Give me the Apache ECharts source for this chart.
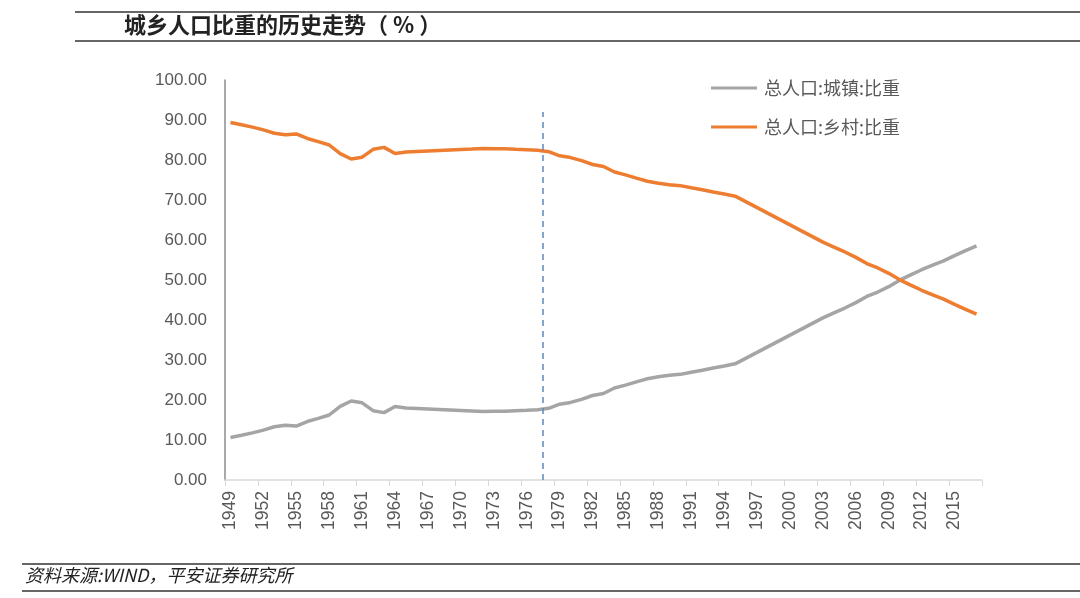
<!DOCTYPE html>
<html><head><meta charset="utf-8">
<script src="https://cdn.jsdelivr.net/npm/echarts@6/dist/echarts.min.js"></script>
<style>html,body{margin:0;padding:0;background:#fff}#c{width:1080px;height:598px}</style>
</head><body><div id="c"></div>
<script>
const years = [];
for (let y = 1949; y <= 2017; y++) years.push(String(y));
const urbanShare = [10.64,11.18,11.78,12.46,13.31,13.69,13.48,14.62,15.39,16.25,18.41,19.75,19.29,17.33,16.84,18.37,17.98,17.86,17.74,17.62,17.50,17.38,17.26,17.13,17.20,17.16,17.34,17.44,17.55,17.92,18.96,19.39,20.16,21.13,21.62,23.01,23.71,24.52,25.32,25.81,26.21,26.41,26.94,27.46,27.99,28.51,29.04,30.48,31.91,33.35,34.78,36.22,37.66,39.09,40.53,41.76,42.99,44.34,45.89,46.99,48.34,49.95,51.27,52.57,53.73,54.77,56.10,57.35,58.52];
const ruralShare = [89.36,88.82,88.22,87.54,86.69,86.31,86.52,85.38,84.61,83.75,81.59,80.25,80.71,82.67,83.16,81.63,82.02,82.14,82.26,82.38,82.50,82.62,82.74,82.87,82.80,82.84,82.66,82.56,82.45,82.08,81.04,80.61,79.84,78.87,78.38,76.99,76.29,75.48,74.68,74.19,73.79,73.59,73.06,72.54,72.01,71.49,70.96,69.52,68.09,66.65,65.22,63.78,62.34,60.91,59.47,58.24,57.01,55.66,54.11,53.01,51.66,50.05,48.73,47.43,46.27,45.23,43.90,42.65,41.48];
const seriesNames = ['总人口:城镇:比重', '总人口:乡村:比重'];
const reformIndex = 29;   // 1978 boundary
const reformTop = 92;
const titleText = '城乡人口比重的历史走势（ % ）';
const sourceText = '资料来源:WIND，平安证券研究所';

const chart = echarts.init(document.getElementById('c'));
chart.setOption({
  animation: false,
  backgroundColor: '#fff',
  grid: { left: 225, right: 98, top: 80, bottom: 118, containLabel: false },
  legend: {
    orient: 'vertical', left: 706, top: 74, itemGap: 21,
    itemWidth: 46, itemHeight: 3,
    icon: 'rect',
    textStyle: { fontFamily: 'Noto Sans CJK SC', fontSize: 18, color: '#595959', padding: [0,0,0,2] },
    data: seriesNames
  },
  xAxis: [{
    type: 'category', data: years, boundaryGap: true,
    axisLine: { lineStyle: { color: '#d9d9d9', width: 1.5 } },
    axisTick: { show: true, interval: 2, length: 6, lineStyle: { color: '#d9d9d9' } },
    axisLabel: { interval: 2, rotate: 90, fontFamily: 'Liberation Sans', fontSize: 17.5, color: '#595959', margin: 11 },
    splitLine: { show: false }
  }, {
    type: 'value', min: 0, max: years.length, show: false
  }],
  yAxis: {
    type: 'value', min: 0, max: 100, interval: 10,
    axisLine: { show: true, lineStyle: { color: '#8c8c8c', width: 1.5 } },
    axisTick: { show: false },
    splitLine: { show: false },
    axisLabel: { formatter: v => v.toFixed(2), fontFamily: 'Liberation Sans', fontSize: 17, color: '#595959', margin: 18 }
  },
  series: [
    { name: seriesNames[0], type: 'line', data: urbanShare, symbol: 'none', smooth: false,
      lineStyle: { color: '#a5a5a5', width: 3.5 }, itemStyle: { color: '#a5a5a5' } },
    { name: seriesNames[1], type: 'line', data: ruralShare, symbol: 'none',
      lineStyle: { color: '#ed7d31', width: 3.5 }, itemStyle: { color: '#ed7d31' } },
    { name: 'reform', type: 'line', xAxisIndex: 1, data: [], symbol: 'none',
      markLine: { silent: true, symbol: 'none', label: { show: false },
        lineStyle: { color: '#5f88bf', type: [6, 5], width: 1.5 },
        data: [[{ coord: [reformIndex, 0] }, { coord: [reformIndex, reformTop] }]] } }
  ],
  graphic: [
    { type: 'line', shape: { x1: 75, y1: 12, x2: 1080, y2: 12 }, style: { stroke: '#333', lineWidth: 1.5 } },
    { type: 'line', shape: { x1: 75, y1: 41, x2: 1080, y2: 41 }, style: { stroke: '#333', lineWidth: 1.5 } },
    { type: 'text', left: 124, top: 14, style: { text: titleText, font: 'bold 22px "Noto Sans CJK SC"', fill: '#222' } },
    { type: 'line', shape: { x1: 22, y1: 564, x2: 1080, y2: 564 }, style: { stroke: '#333', lineWidth: 1.5 } },
    { type: 'line', shape: { x1: 22, y1: 591, x2: 1080, y2: 591 }, style: { stroke: '#333', lineWidth: 1.5 } },
    { type: 'text', left: 25, top: 566, style: { text: sourceText, font: 'italic 18px "Noto Sans CJK SC"', fill: '#222' } }
  ]
});
</script></body></html>
